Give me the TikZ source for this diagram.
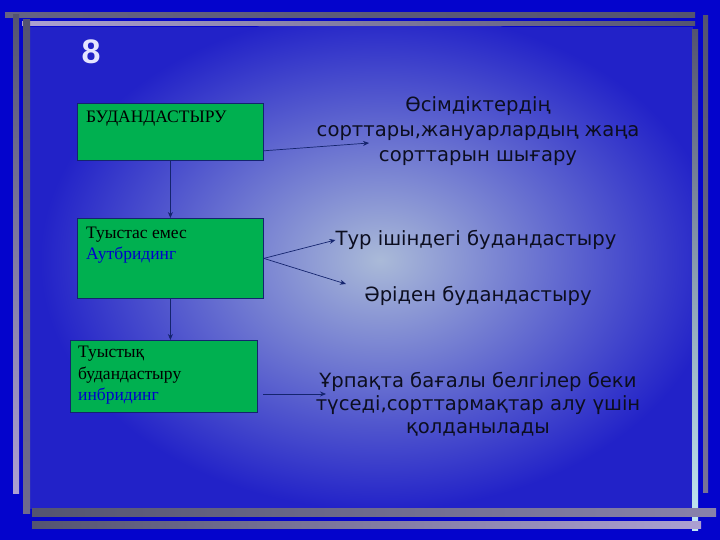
\documentclass[tikz,border=0pt]{standalone}
\usepackage{fontspec}
\setmainfont{Liberation Serif}
\newfontfamily\txtfont{DejaVu Sans}
\newfontfamily\numfont{Liberation Sans}
\usetikzlibrary{calc,arrows.meta}
\definecolor{slideblue}{RGB}{4,4,204}
\definecolor{panelblue}{RGB}{34,34,200}
\definecolor{panellight}{RGB}{170,186,216}
\definecolor{boxgreen}{RGB}{0,176,80}
\definecolor{arrowblue}{RGB}{20,36,110}
\definecolor{bargray}{RGB}{84,84,112}
\definecolor{barlav}{RGB}{172,160,210}
\definecolor{inkdark}{RGB}{12,14,32}
\tikzset{
  box/.style={draw=arrowblue, line width=0.8pt, fill=boxgreen, anchor=north west, inner sep=0pt},
  boxtext/.style={anchor=north west, align=left, inner sep=0pt, font=\fontsize{17.5}{21}\selectfont, text=black},
  note/.style={align=center, inner sep=0pt, font=\txtfont\fontsize{19.6}{25}\selectfont, text=inkdark},
  link/.style={draw=arrowblue, line width=0.7pt, -{Stealth[length=6pt,width=5pt]}}
}
\begin{document}
\begin{tikzpicture}[x=1pt,y=-1pt]
  %%%%% background %%%%%
  \fill[slideblue] (0,0) rectangle (720,540);
  \fill[panelblue] (30,27) rectangle (693,509);
  \begin{scope}
    \clip (30,27) rectangle (693,509);
    \shade[inner color=panellight, outer color=panelblue] (380,260) ellipse (340 and 250);
  \end{scope}

  %%%%% frame bars %%%%%
  \shade[left color=bargray!80!barlav, right color=bargray] (5,13) rectangle (695,18);
  \shade[left color=barlav, right color=bargray] (22,22) rectangle (695,26);
  \shade[top color=bargray, bottom color=barlav] (13,15) rectangle (19,493);
  \shade[top color=bargray, bottom color=bargray!70!barlav] (23,20) rectangle (30,513);
  \shade[top color=bargray, bottom color=barlav!60!cyan!40!white] (692,30) rectangle (698,530);
  \shade[top color=bargray, bottom color=bargray!60!barlav] (703,16) rectangle (708,492);
  \shade[left color=bargray, right color=bargray!40!barlav] (32,508) rectangle (716,516);
  \shade[left color=bargray, right color=barlav] (32,521) rectangle (701,528);

  %%%%% number %%%%%
  \node[text=white!90!blue, font=\numfont\bfseries\fontsize{34}{34}\selectfont] (num) at (91,52) {8};

  %%%%% boxes %%%%%
  \node[box, minimum width=186, minimum height=57] (bud) at (77,103) {};
  \node[boxtext] (budtxt) at ($(bud.north west)+(9,8)$) {БУДАНДАСТЫРУ};

  \node[box, minimum width=186, minimum height=80] (out) at (77,218) {};
  \node[boxtext] (outtxt) at ($(out.north west)+(9,9)$) {Туыстас емес\\\textcolor{blue!80!black}{Аутбридинг}};

  \node[box, minimum width=187, minimum height=72] (inb) at (70,340) {};
  \node[boxtext, font=\fontsize{17.5}{21.5}\selectfont] (inbtxt) at ($(inb.north west)+(8,6)$) {Туыстық\\будандастыру\\\textcolor{blue!80!black}{инбридинг}};

  %%%%% notes %%%%%
  \node[note] (goal) at (478,131) {Өсімдіктердің\\сорттары,жануарлардың жаңа\\сорттарын шығару};
  \node[note] (intra) at (476,240) {Тур ішіндегі будандастыру};
  \node[note] (far) at (478,296) {Әріден будандастыру};
  \node[note, font=\txtfont\fontsize{19.6}{23}\selectfont] (use) at (478,404) {Ұрпақта бағалы белгілер беки\\түседі,сорттармақтар алу үшін\\қолданылады};

  %%%%% links %%%%%
  \coordinate (goalin) at (369,143);
  \coordinate (farin) at (346,284);
  \coordinate (useout) at (263,394);
  \coordinate (usein) at (326,394);
  \draw[link] (bud.south) -- (out.north);
  \draw[link] (out.south) -- (out.south |- inb.north);
  \draw[link] ($(bud.south east)+(0,-10)$) -- (goalin);
  \draw[link] (out.east) -- (intra.west);
  \draw[link] (out.east) -- (farin);
  \draw[link] (useout) -- (usein);
\end{tikzpicture}
\end{document}
